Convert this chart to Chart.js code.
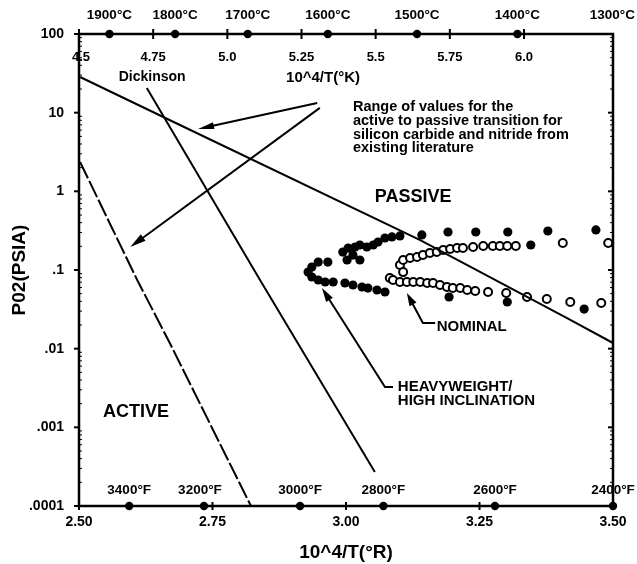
<!DOCTYPE html>
<html><head><meta charset="utf-8">
<script src="https://cdn.jsdelivr.net/npm/chart.js@4.4.0/dist/chart.umd.min.js"></script>
<style>html,body{margin:0;padding:0;background:#fff;}#wrap{width:637px;height:564px;position:relative;}</style>
</head><body><div id="wrap"><canvas id="c" width="637" height="564"></canvas></div>
<script>
// ---- axis ticks ----
const xTickValues=[2.5,2.75,3.0,3.25,3.5];
const xTickLabels=["2.50","2.75","3.00","3.25","3.50"];
const yTickValues=[0.0001,0.001,0.01,0.1,1,10,100];
const yTickLabels=[".0001",".001",".01",".1","1","10","100"];
const topTickValues=[4.5,4.75,5.0,5.25,5.5,5.75,6.0];
const topTickLabels=["4.5","4.75","5.0","5.25","5.5","5.75","6.0"];
const celsiusPositions=[2.557,2.680,2.816,2.966,3.133,3.321,3.532];
const celsiusLabels=["1900°C","1800°C","1700°C","1600°C","1500°C","1400°C","1300°C"];
const fahrenheitPositions=[2.594,2.734,2.914,3.070,3.279,3.5];
const fahrenheitLabels=["3400°F","3200°F","3000°F","2800°F","2600°F","2400°F"];

// ---- boundary lines ----
const upperRangeX=[2.502,2.689,3.139,3.414,3.5];
const upperRangeY=[28.4,6.97,0.240,0.0245,0.0118];
const lowerRangeX=[2.502,2.609,2.670,2.822];
const lowerRangeY=[2.36,0.0746,0.0118,0.0001];
const dickinsonX=[2.627,2.839,3.054];
const dickinsonY=[20.6,0.0746,0.00027];

// ---- flight data ----
const heavyX=[3.101,3.142,3.191,3.243,3.303,3.378,3.468,3.346,3.193,3.302,3.446,
  3.086,3.073,3.060,3.051,3.039,3.026,3.017,3.004,2.994,3.002,3.026,3.013,
  2.966,2.948,2.936,2.929,2.936,2.948,2.961,2.976,2.998,3.013,3.030,3.041,3.058,3.073];
const heavyY=[0.271,0.279,0.304,0.304,0.304,0.313,0.323,0.208,0.0454,0.0392,0.0319,
  0.263,0.255,0.227,0.208,0.196,0.208,0.196,0.190,0.169,0.134,0.134,0.155,
  0.126,0.126,0.109,0.094,0.0815,0.0746,0.0704,0.0704,0.0684,0.0645,0.0608,0.059,0.0557,0.0525];
const nominalX=[3.101,3.107,3.120,3.133,3.144,3.157,3.170,3.182,3.195,3.208,3.219,3.238,3.257,3.275,3.288,3.302,3.318,3.406,3.491,
  3.107,
  3.082,3.088,3.101,3.114,3.126,3.139,3.152,3.163,3.176,3.189,3.200,3.214,3.227,3.242,3.266,3.300,3.339,3.376,3.420,3.478];
const nominalY=[0.116,0.134,0.142,0.146,0.155,0.165,0.169,0.180,0.185,0.190,0.190,0.196,0.202,0.202,0.202,0.202,0.202,0.220,0.220,
  0.094,
  0.079,0.0746,0.0704,0.0704,0.0704,0.0704,0.0684,0.0684,0.0645,0.0608,0.059,0.059,0.0557,0.0541,0.0525,0.051,0.0454,0.0428,0.0392,0.0381];

// ---- annotation anchors (data units) ----
const arrowRangeUpperX=[2.946,2.723], arrowRangeUpperY=[13.3,6.20];
const arrowRangeLowerX=[2.951,2.596], arrowRangeLowerY=[11.5,0.196];
const arrowHeavyX=[3.088,3.073,2.955], arrowHeavyY=[0.00326,0.00326,0.0591];
const arrowNominalX=[3.167,3.144,3.114], arrowNominalY=[0.0212,0.0212,0.0510];
const rangeNoteLines=["Range of values for the","active to passive transition for","silicon carbide and nitride from","existing literature"];

const FAM="'Liberation Sans', Arial, Helvetica, sans-serif";
const pts=(xs,ys)=>xs.map((v,i)=>({x:v,y:ys[i]}));

const decor={
  id:'decor',
  afterDatasetsDraw(chart){
    const {ctx,chartArea:a,scales:{x,y,x2}}=chart;
    const P=(vx,vy)=>[x.getPixelForValue(vx),y.getPixelForValue(vy)];
    ctx.save();
    ctx.strokeStyle='#000';ctx.fillStyle='#000';ctx.lineCap='butt';
    const seg=(x1,y1,x3,y3)=>{ctx.beginPath();ctx.moveTo(x1,y1);ctx.lineTo(x3,y3);ctx.stroke();};
    const dot=(px,py,r)=>{ctx.beginPath();ctx.arc(px,py,r,0,Math.PI*2);ctx.fill();};
    // frame
    ctx.lineWidth=2.5;
    ctx.strokeRect(a.left,a.top,a.right-a.left,a.bottom-a.top);
    // y ticks
    ctx.lineWidth=2;
    yTickValues.forEach(v=>{const py=y.getPixelForValue(v);seg(a.left-5,py,a.left,py);seg(a.right-5,py,a.right,py);});
    ctx.lineWidth=1;
    for(let k=0;k<yTickValues.length-1;k++){
      for(let m=2;m<=9;m++){
        const py=y.getPixelForValue(yTickValues[k]*m);
        seg(a.left,py,a.left+3,py);seg(a.right-3,py,a.right,py);
      }
    }
    // bottom ticks + °F dots
    ctx.lineWidth=2;
    xTickValues.forEach(v=>{const px=x.getPixelForValue(v);seg(px,a.bottom-4,px,a.bottom+4);});
    fahrenheitPositions.forEach(v=>{const px=x.getPixelForValue(v);if(px<=a.right+1)dot(px,a.bottom,4.2);});
    // top ticks + °C dots
    topTickValues.forEach(v=>{const px=x2.getPixelForValue(v);seg(px,a.top-5,px,a.top+5);});
    celsiusPositions.forEach(v=>{const px=x.getPixelForValue(v);if(px<=a.right+1)dot(px,a.top,4.2);});
    // labels for secondary axes
    ctx.textBaseline='middle';ctx.textAlign='center';
    const W=chart.width;
    const put=(t,px,py)=>{const w=ctx.measureText(t).width;px=Math.min(px,W-w/2-2);ctx.fillText(t,px,py);};
    ctx.font='bold 13px '+FAM;
    topTickValues.forEach((v,i)=>put(topTickLabels[i],x2.getPixelForValue(v)+(i===0?2:0),a.top+23));
    ctx.font='bold 13.5px '+FAM;
    celsiusPositions.forEach((v,i)=>put(celsiusLabels[i],x.getPixelForValue(v),a.top-19));
    fahrenheitPositions.forEach((v,i)=>put(fahrenheitLabels[i],x.getPixelForValue(v)-(i===1?4:0),a.bottom-16));
    // arrows
    const arrow=(xs,ys,hl,hw)=>{
      ctx.lineWidth=2;ctx.beginPath();
      const p=xs.map((v,i)=>P(v,ys[i]));
      ctx.moveTo(p[0][0],p[0][1]);
      const n=p.length;
      const [tx,ty]=p[n-1],[sx,sy]=p[n-2];
      const ang=Math.atan2(ty-sy,tx-sx);
      for(let i=1;i<n-1;i++)ctx.lineTo(p[i][0],p[i][1]);
      ctx.lineTo(tx-Math.cos(ang)*hl*0.8,ty-Math.sin(ang)*hl*0.8);ctx.stroke();
      ctx.beginPath();ctx.moveTo(tx,ty);
      ctx.lineTo(tx-Math.cos(ang)*hl-Math.sin(ang)*hw/2,ty-Math.sin(ang)*hl+Math.cos(ang)*hw/2);
      ctx.lineTo(tx-Math.cos(ang)*hl+Math.sin(ang)*hw/2,ty-Math.sin(ang)*hl-Math.cos(ang)*hw/2);
      ctx.closePath();ctx.fill();
    };
    arrow(arrowRangeUpperX,arrowRangeUpperY,16,7);
    arrow(arrowRangeLowerX,arrowRangeLowerY,16,8);
    arrow(arrowHeavyX,arrowHeavyY,14,8);
    arrow(arrowNominalX,arrowNominalY,13,8);
    // texts
    const txt=(t,vx,vy,font,align)=>{ctx.font=font;ctx.textAlign=align;const [px,py]=P(vx,vy);ctx.fillText(t,px,py);};
    txt("Dickinson",2.637,28.4,'bold 14px '+FAM,'center');
    txt("10^4/T(°K)",2.957,27.6,'bold 15px '+FAM,'center');
    ctx.font='bold 14.5px '+FAM;ctx.textAlign='left';
    const [rx,ry]=P(3.013,11.8);
    rangeNoteLines.forEach((l,i)=>ctx.fillText(l,rx,ry+i*13.8));
    txt("PASSIVE",3.054,0.847,'bold 18px '+FAM,'left');
    txt("ACTIVE",2.545,0.00157,'bold 18px '+FAM,'left');
    txt("NOMINAL",3.170,0.0189,'bold 15px '+FAM,'left');
    txt("HEAVYWEIGHT/",3.097,0.00326,'bold 15px '+FAM,'left');
    txt("HIGH INCLINATION",3.097,0.00216,'bold 15px '+FAM,'left');
    ctx.restore();
  }
};

new Chart(document.getElementById('c'),{
  type:'scatter',
  data:{datasets:[
    {label:'upper',data:pts(upperRangeX,upperRangeY),showLine:true,borderColor:'#000',borderWidth:2,pointRadius:0,fill:false,tension:0},
    {label:'lower',data:pts(lowerRangeX,lowerRangeY),showLine:true,borderColor:'#000',borderWidth:2,borderDash:[18,3],pointRadius:0,fill:false,tension:0},
    {label:'Dickinson',data:pts(dickinsonX,dickinsonY),showLine:true,borderColor:'#000',borderWidth:2,pointRadius:0,fill:false,tension:0},
    {label:'Nominal',data:pts(nominalX,nominalY),showLine:false,pointRadius:4,pointBorderWidth:2,pointBackgroundColor:'#fff',pointBorderColor:'#000'},
    {label:'Heavyweight',data:pts(heavyX,heavyY),showLine:false,pointRadius:4.6,pointBorderWidth:0,pointBackgroundColor:'#000',pointBorderColor:'#000'}
  ]},
  options:{
    responsive:false,animation:false,devicePixelRatio:1,
    layout:{padding:{top:34,right:24,left:0,bottom:0}},
    plugins:{legend:{display:false},tooltip:{enabled:false}},
    scales:{
      x:{type:'linear',position:'bottom',min:2.5,max:3.5,
        afterBuildTicks:s=>{s.ticks=xTickValues.map(v=>({value:v}));},
        afterFit:s=>{s.height=58;},
        ticks:{callback:(v,i)=>xTickLabels[i],font:{family:FAM,weight:'bold',size:14},color:'#000',padding:8,maxRotation:0,autoSkip:false},
        grid:{display:false,drawTicks:false,tickLength:0},border:{display:false},
        title:{display:true,text:'10^4/T(°R)',font:{family:FAM,weight:'bold',size:19},color:'#000',padding:{top:0,bottom:0}}},
      x2:{type:'linear',position:'top',min:4.5,max:6.3,
        afterFit:s=>{s.height=0;},
        ticks:{display:false},grid:{display:false,drawTicks:false,tickLength:0},border:{display:false}},
      y:{type:'logarithmic',position:'left',min:0.0001,max:100,
        afterBuildTicks:s=>{s.ticks=yTickValues.map(v=>({value:v}));},
        afterFit:s=>{s.width=79;},
        ticks:{callback:(v,i)=>yTickLabels[i],font:{family:FAM,weight:'bold',size:14},color:'#000',padding:15,autoSkip:false},
        grid:{display:false,drawTicks:false,tickLength:0},border:{display:false},
        title:{display:true,text:'P02(PSIA)',font:{family:FAM,weight:'bold',size:19},color:'#000',padding:{top:8,bottom:0}}}
    }
  },
  plugins:[decor]
});
</script></body></html>
